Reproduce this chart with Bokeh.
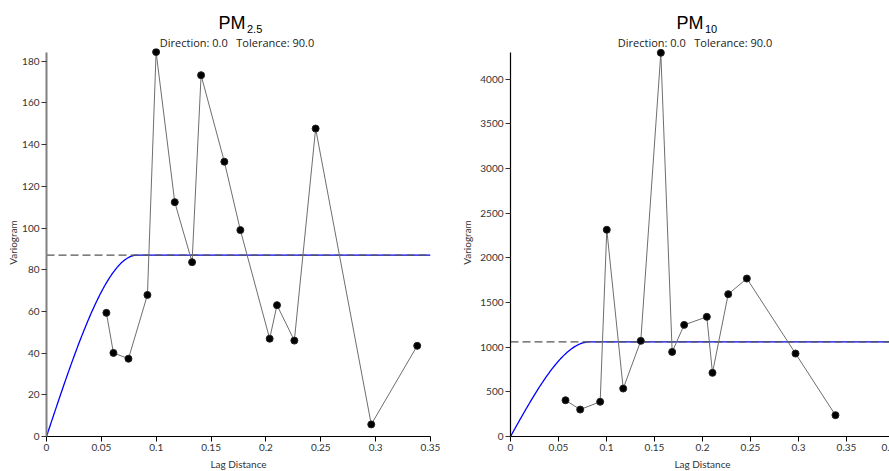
import numpy as np
from bokeh.plotting import figure
from bokeh.layouts import row, column
from bokeh.models import Range1d, FixedTicker, NumeralTickFormatter
from bokeh.core.properties import value
from bokeh.embed import file_html
from bokeh.resources import INLINE

# ---- data ----
pm25_lag = [0.0546, 0.0610, 0.0747, 0.0920, 0.0999, 0.1169, 0.1327, 0.1409,
            0.1621, 0.1767, 0.2034, 0.2101, 0.2259, 0.2453, 0.2960, 0.3379]
pm25_gamma = [59.3, 40.1, 37.3, 67.9, 184.4, 112.4, 83.6, 173.3,
              131.8, 99.0, 46.9, 63.0, 46.0, 147.7, 5.8, 43.5]

pm10_lag = [0.0573, 0.0726, 0.0934, 0.1003, 0.1174, 0.1357, 0.1566, 0.1684,
            0.1809, 0.2045, 0.2104, 0.2268, 0.2462, 0.2969, 0.3385]
pm10_gamma = [406, 302, 389, 2315, 537, 1071, 4297, 947,
              1250, 1340, 713, 1594, 1769, 929, 239]

# spherical model parameters
pm25_sill = 87.0
pm10_sill = 1060.0
model_range = 0.0826

pm25_xticks = [0, 0.05, 0.1, 0.15, 0.2, 0.25, 0.3, 0.35]
pm10_xticks = [0, 0.05, 0.1, 0.15, 0.2, 0.25, 0.3, 0.35, 0.4]
pm25_yticks = [0, 20, 40, 60, 80, 100, 120, 140, 160, 180]
pm10_yticks = [0, 500, 1000, 1500, 2000, 2500, 3000, 3500, 4000]

subtitle = "Direction: 0.0\u00a0\u00a0\u00a0Tolerance: 90.0"

TITLE_H = 48


def spherical(h, sill, a):
    h = np.asarray(h, dtype=float)
    r = np.minimum(h / a, 1.0)
    return sill * (1.5 * r - 0.5 * r ** 3)


def title_fig(width, sub):
    t = figure(width=width, height=TITLE_H, output_backend="svg", toolbar_location=None,
               x_range=Range1d(0, width), y_range=Range1d(0, TITLE_H),
               x_axis_type=None, y_axis_type=None,
               min_border=0, frame_width=width, frame_height=TITLE_H)
    t.outline_line_color = None
    t.grid.visible = False
    t.text(x=[218], y=[26], text=["PM"], text_font=value("Liberation Sans"),
           text_font_size="18px", text_color="black", text_align="left",
           text_baseline="alphabetic")
    t.text(x=[246.5], y=[20], text=[sub], text_font=value("Liberation Sans"),
           text_font_size="11px", text_color="black", text_align="left",
           text_baseline="alphabetic")
    t.text(x=[236.5], y=[6.5], text=[subtitle], text_font=value("Open Sans"),
           text_font_size="11px", text_color="#222222", text_align="center",
           text_baseline="alphabetic")
    return t


def panel(lag, gamma, sill, xmax, ymax, xticks, yticks, width,
          border_left, border_right, yaxis_color, yaxis_width, label_standoff):
    p = figure(width=width, height=471 - TITLE_H, output_backend="svg",
               toolbar_location=None,
               x_range=Range1d(0, xmax), y_range=Range1d(0, ymax),
               min_border_left=border_left, min_border_right=border_right,
               min_border_top=0, min_border_bottom=35,
               frame_width=384, frame_height=388)
    p.outline_line_color = None
    p.grid.visible = False

    h = np.linspace(0, xmax, 500)
    p.line(h, spherical(h, sill, model_range), line_color="blue", line_width=1.3)
    p.line([0, xmax], [sill, sill], line_color="#555555", line_width=1.3,
           line_dash="8 4")
    p.line(lag, gamma, line_color="#6e6e6e", line_width=1)
    p.scatter(lag, gamma, size=7, fill_color="black", line_color="#222222")

    for ax in (p.xaxis[0], p.yaxis[0]):
        ax.major_tick_out = 5
        ax.major_tick_in = 0
        ax.minor_tick_out = 0
        ax.minor_tick_in = 0
        ax.major_label_text_font = "Lato"
        ax.major_label_text_font_size = "10px"
        ax.major_label_text_color = "#333333"
        ax.axis_label_text_font = "Lato"
        ax.axis_label_text_font_size = "10px"
        ax.axis_label_text_font_style = "normal"
        ax.axis_label_text_color = "#333333"
        ax.major_label_standoff = 2
    p.xaxis[0].axis_label_standoff = 4
    p.yaxis[0].axis_label_standoff = label_standoff
    p.xaxis[0].ticker = FixedTicker(ticks=xticks)
    p.yaxis[0].ticker = FixedTicker(ticks=yticks)
    p.yaxis[0].bounds = (0, max(gamma))
    p.xaxis[0].formatter = NumeralTickFormatter(format="0.[00]")
    p.xaxis[0].axis_label = "Lag Distance"
    p.yaxis[0].axis_label = "Variogram"
    p.xaxis[0].axis_line_color = "black"
    p.xaxis[0].major_tick_line_color = "black"
    p.yaxis[0].axis_line_color = yaxis_color
    p.yaxis[0].axis_line_width = yaxis_width
    p.yaxis[0].major_tick_line_color = "#333333"
    return p


p1 = panel(pm25_lag, pm25_gamma, pm25_sill, 0.35, 186.1, pm25_xticks, pm25_yticks,
           458, 46, 28, "#808080", 2, 0)
p2 = panel(pm10_lag, pm10_gamma, pm10_sill, 0.4, 4345, pm10_xticks, pm10_yticks,
           431, 46, 1, "black", 1.2, 4)
t1 = title_fig(458, "2.5")
t2 = title_fig(431, "10")

layout = column(row(t1, t2, spacing=0), row(p1, p2, spacing=0), spacing=0)
open("out.html", "w").write(file_html(layout, INLINE))
